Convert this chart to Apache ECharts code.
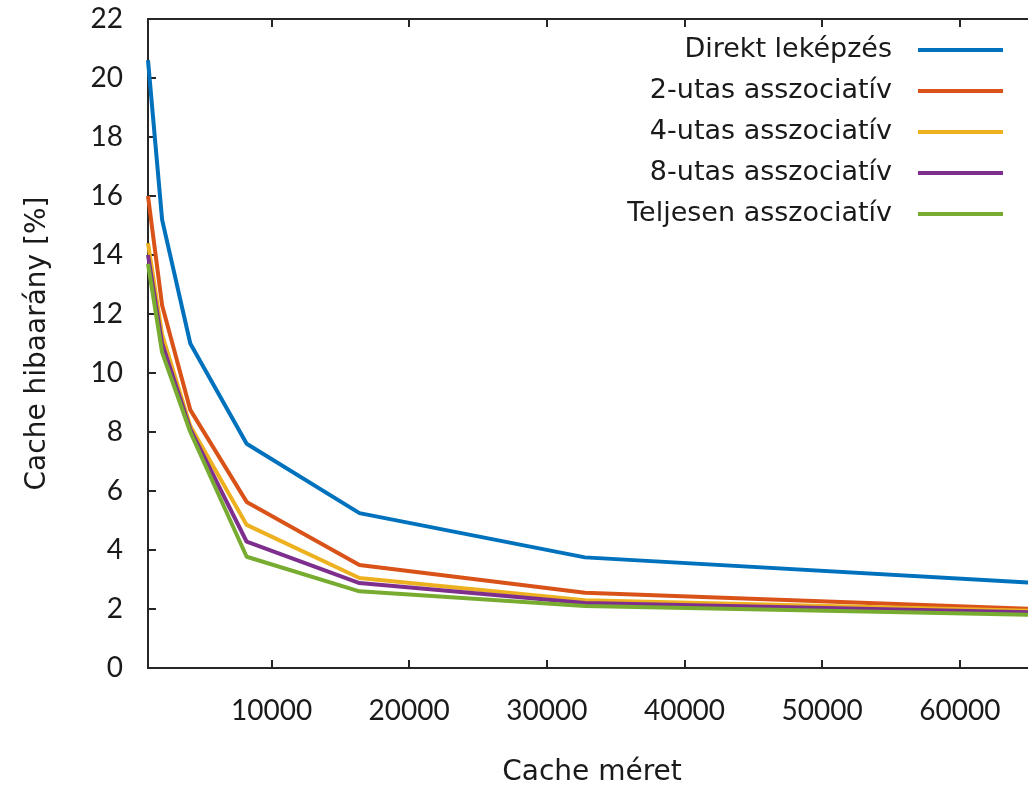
<!doctype html>
<html lang="hu">
  <head>
    <meta charset="UTF-8" />
    <title>Cache hibaarány</title>
    <style>
      html,
      body {
        width: 100%;
        height: 100%;
        margin: 0;
        padding: 0;
        background: #fff;
      }
      #Echart {
        width: 1028px;
        height: 785px;
      }
    </style>
  </head>

  <body>
    <div id="Echart"></div>
    <script src="https://cdn.jsdelivr.net/npm/echarts@6/dist/echarts.min.js"></script>
    <script>
      // cache méretek (byte)
      const cacheSizes = [1024, 2048, 4096, 8192, 16384, 32768, 65536]
      const xTicks = [10000, 20000, 30000, 40000, 50000, 60000]

      // hibaarány [%]
      const direkt = [20.6, 15.2, 11.0, 7.6, 5.25, 3.75, 2.88]
      const utas2 = [16.0, 12.3, 8.75, 5.63, 3.49, 2.55, 2.0]
      const utas4 = [14.4, 11.3, 8.2, 4.85, 3.05, 2.3, 1.93]
      const utas8 = [14.0, 11.0, 8.1, 4.28, 2.88, 2.2, 1.88]
      const teljes = [13.7, 10.7, 8.0, 3.77, 2.6, 2.1, 1.8]

      const seriesNames = [
        'Direkt leképzés',
        '2-utas asszociatív',
        '4-utas asszociatív',
        '8-utas asszociatív',
        'Teljesen asszociatív',
      ]
      const seriesData = [direkt, utas2, utas4, utas8, teljes]
      const colors = ['#0072BD', '#D95319', '#EDB120', '#7E2F8E', '#77AC30']

      const axisColor = '#262626'
      const labelFont = 'Lato, "Open Sans", sans-serif'
      const textFont = '"DejaVu Sans", Lato, sans-serif'

      const chart = echarts.init(document.getElementById('Echart'))

      const tickStyle = {
        show: true,
        inside: true,
        length: 8,
        lineStyle: { color: axisColor, width: 2 },
      }

      const option = {
        animation: false,
        color: colors,
        grid: {
          left: 148,
          top: 19,
          right: -8,
          bottom: 117,
          outerBoundsMode: 'none',
        },
        legend: {
          right: 20,
          top: 30,
          orient: 'vertical',
          align: 'right',
          icon: 'rect',
          itemWidth: 85,
          itemHeight: 4,
          itemGap: 11,
          textStyle: {
            fontFamily: textFont,
            fontSize: 27,
            color: '#1a1a1a',
            lineHeight: 30,
            padding: [0, 21, 0, 0],
          },
          data: seriesNames,
        },
        xAxis: [
          {
            type: 'value',
            min: 1024,
            max: 65536,
            name: 'Cache méret',
            nameLocation: 'middle',
            nameGap: 91,
            nameTextStyle: { fontFamily: textFont, fontSize: 28, color: '#1a1a1a' },
            axisLine: { show: true, lineStyle: { color: axisColor, width: 2 } },
            axisTick: Object.assign({ customValues: xTicks }, tickStyle),
            axisLabel: {
              customValues: xTicks,
              formatter: (v) => String(v),
              margin: 29,
              fontFamily: labelFont,
              fontSize: 28,
              color: '#1a1a1a',
            },
            splitLine: { show: false },
          },
          {
            type: 'value',
            position: 'top',
            min: 1024,
            max: 65536,
            axisLine: { show: true, lineStyle: { color: axisColor, width: 2 } },
            axisTick: Object.assign({ customValues: xTicks }, tickStyle),
            axisLabel: { show: false },
            splitLine: { show: false },
          },
        ],
        yAxis: {
          type: 'value',
          min: 0,
          max: 22,
          interval: 2,
          name: 'Cache hibaarány [%]',
          nameLocation: 'middle',
          nameGap: 96,
          nameTextStyle: { fontFamily: textFont, fontSize: 28, color: '#1a1a1a' },
          axisLine: { show: true, lineStyle: { color: axisColor, width: 2 } },
          axisTick: tickStyle,
          axisLabel: {
            margin: 25,
            fontFamily: labelFont,
            fontSize: 28,
            color: '#1a1a1a',
          },
          splitLine: { show: false },
        },
        series: seriesNames.map((name, i) => ({
          name: name,
          type: 'line',
          xAxisIndex: 0,
          showSymbol: false,
          symbol: 'none',
          lineStyle: { width: 4, color: colors[i] },
          data: cacheSizes.map((x, j) => [x, seriesData[i][j]]),
        })),
      }

      chart.setOption(option)
    </script>
  </body>
</html>
